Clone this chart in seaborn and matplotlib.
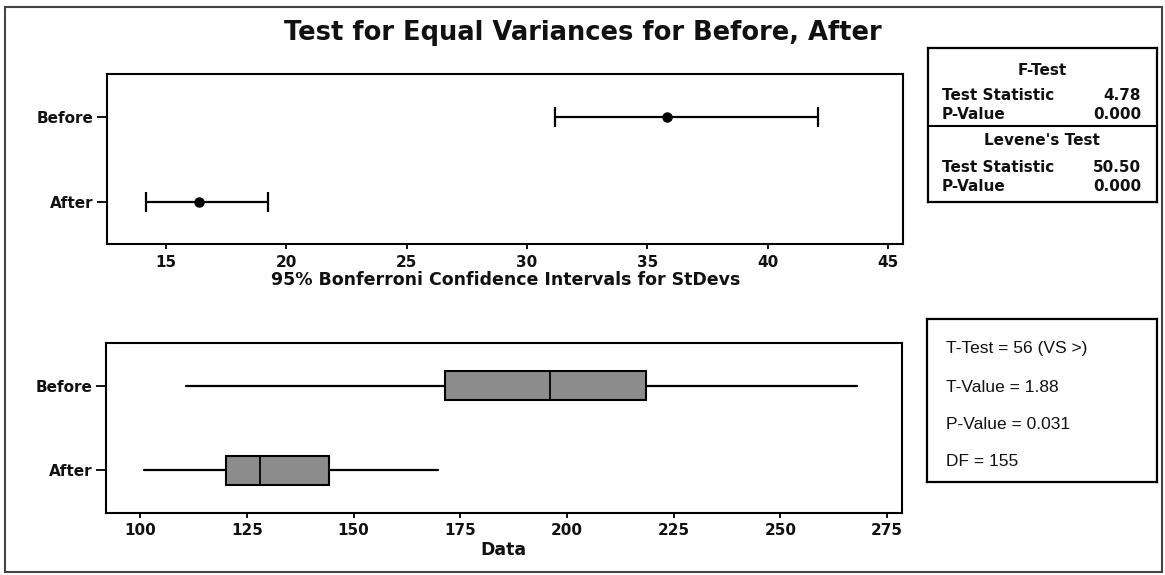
import matplotlib
matplotlib.use("Agg")
import matplotlib.pyplot as plt
import seaborn as sns
import pandas as pd
from matplotlib.patches import Rectangle
from matplotlib import font_manager

# ---------------- data ----------------
groups = ["Before", "After"]

sd_estimate = [35.8, 16.4]
sd_lower = [31.15, 14.17]
sd_upper = [42.06, 19.25]
sd_ticks = [15, 20, 25, 30, 35, 40, 45]

whisker_low = [110.8, 100.9]
q1 = [171.5, 120.2]
median = [196.1, 128.1]
q3 = [218.4, 144.2]
whisker_high = [267.9, 169.8]
data_ticks = [100, 125, 150, 175, 200, 225, 250, 275]

title = "Test for Equal Variances for Before, After"
sd_xlabel = "95% Bonferroni Confidence Intervals for StDevs"
data_xlabel = "Data"

f_test_title = "F-Test"
f_test_rows = [("Test Statistic", "4.78"), ("P-Value", "0.000")]
levene_title = "Levene's Test"
levene_rows = [("Test Statistic", "50.50"), ("P-Value", "0.000")]
t_test_lines = ["T-Test = 56 (VS >)", "T-Value = 1.88", "P-Value = 0.031", "DF = 155"]

# ---------------- style ----------------
sns.set_theme(style="white")
plt.rcParams["font.family"] = ["DejaVu Sans"]
plt.rcParams["axes.edgecolor"] = "black"
plt.rcParams["axes.linewidth"] = 1.5
plt.rcParams["text.color"] = "black"
plt.rcParams["axes.labelcolor"] = "black"
plt.rcParams["xtick.color"] = "black"
plt.rcParams["ytick.color"] = "black"

INK = "#111111"


def has_font(name):
    try:
        font_manager.findfont(font_manager.FontProperties(family=name),
                              fallback_to_default=False)
        return True
    except Exception:
        return False


W, H = 1165, 575
fig = plt.figure(figsize=(W / 100, H / 100), dpi=100)
fig.patch.set_facecolor("white")


def rect(left, top, right, bottom):
    return [left / W, 1 - bottom / H, (right - left) / W, (bottom - top) / H]


# outer frame
fig.add_artist(Rectangle((5 / W, 1 - 572 / H), (1162 - 5) / W, (572 - 7) / H,
                         transform=fig.transFigure, fill=False, lw=1.5,
                         ec="#444444"))

fig.text(583 / W, 1 - 33 / H, title, ha="center", va="center",
         fontsize=18.5, fontweight="bold", color=INK)

# ---------------- top panel: CI for StDevs ----------------
ax1 = fig.add_axes(rect(107.3, 74, 903.3, 244.3))
df_sd = pd.DataFrame({"group": groups, "sd": sd_estimate})
sns.pointplot(data=df_sd, x="sd", y="group", order=groups, orient="h",
              errorbar=None, linestyle="none", color="black",
              markersize=5.5, ax=ax1)
pos = list(range(len(groups)))
xerr = [[e - l for e, l in zip(sd_estimate, sd_lower)],
        [u - e for e, u in zip(sd_estimate, sd_upper)]]
ax1.errorbar(sd_estimate, pos, xerr=xerr, fmt="none", ecolor="black",
             elinewidth=1.6, capsize=7, capthick=1.6)
ax1.set_xlim(12.58, 45.62)
ax1.set_ylim(1.5, -0.5)
ax1.set_xticks(sd_ticks)
ax1.set_xticklabels([str(t) for t in sd_ticks])
ax1.set_yticks(pos)
ax1.set_yticklabels(groups)
ax1.set_xlabel(sd_xlabel, fontsize=12.5, fontweight="bold", color=INK)
ax1.set_ylabel("")
ax1.xaxis.set_label_coords(0.5, -(280 - 244.3) / 170.3)
ax1.xaxis.label.set_va("center")

# ---------------- bottom panel: boxplot ----------------
ax2 = fig.add_axes(rect(106, 343.3, 901.7, 512.7))
stats = []
for g, wl, a, m, b, wh in zip(groups, whisker_low, q1, median, q3, whisker_high):
    stats.append({"label": g, "whislo": wl, "q1": a, "med": m, "q3": b,
                  "whishi": wh, "fliers": []})
bxp_kw = dict(positions=pos, widths=0.34, patch_artist=True, showcaps=False,
              showfliers=False,
              boxprops=dict(facecolor="#8c8c8c", edgecolor="black", linewidth=1.5),
              medianprops=dict(color="black", linewidth=1.3),
              whiskerprops=dict(color="black", linewidth=1.6))
try:
    ax2.bxp(stats, orientation="horizontal", **bxp_kw)
except TypeError:
    ax2.bxp(stats, vert=False, **bxp_kw)
ax2.set_xlim(92.0, 278.4)
ax2.set_ylim(1.5, -0.5)
ax2.set_xticks(data_ticks)
ax2.set_xticklabels([str(t) for t in data_ticks])
ax2.set_yticks(pos)
ax2.set_yticklabels(groups)
ax2.set_xlabel(data_xlabel, fontsize=12.5, fontweight="bold", color=INK)
ax2.xaxis.set_label_coords(0.5, -(550 - 512.7) / 169.4)
ax2.xaxis.label.set_va("center")

for ax in (ax1, ax2):
    for s in ax.spines.values():
        s.set_visible(True)
        s.set_color("black")
        s.set_linewidth(1.5)
    ax.tick_params(axis="x", direction="out", length=3.5, width=1.3,
                   colors="black", labelsize=11, pad=4, bottom=True)
    ax.tick_params(axis="y", direction="out", length=7, width=1.3,
                   colors="black", labelsize=11, pad=3, left=True)
    for lab in ax.get_xticklabels() + ax.get_yticklabels():
        lab.set_fontweight("bold")
        lab.set_color(INK)
    ax.set_facecolor("white")

# ---------------- F-test / Levene box ----------------
axF = fig.add_axes(rect(928.3, 48.3, 1157.3, 201.7))
axF.set_xlim(928.3, 1157.3)
axF.set_ylim(201.7, 48.3)
axF.set_xticks([])
axF.set_yticks([])
axF.axhline(126, color="black", lw=1.5)
fs_box = 11
tkw = dict(va="center", fontsize=fs_box, fontweight="bold", color=INK)
axF.text(1042, 70.7, f_test_title, ha="center", **tkw)
for (lab, val), y in zip(f_test_rows, [95, 114.3]):
    axF.text(941.7, y, lab, ha="left", **tkw)
    axF.text(1141, y, val, ha="right", **tkw)
axF.text(1042, 140, levene_title, ha="center", **tkw)
for (lab, val), y in zip(levene_rows, [167.3, 186.7]):
    axF.text(941.7, y, lab, ha="left", **tkw)
    axF.text(1141, y, val, ha="right", **tkw)

# ---------------- T-test box ----------------
axT = fig.add_axes(rect(926.7, 319, 1157.3, 481.7))
axT.set_xlim(926.7, 1157.3)
axT.set_ylim(481.7, 319)
axT.set_xticks([])
axT.set_yticks([])
if has_font("Liberation Sans Narrow"):
    t_family, t_size = ["Liberation Sans Narrow"], 14.5
else:
    t_family, t_size = ["Liberation Sans"], 12.5
for line, y in zip(t_test_lines, [348.3, 387.7, 424.3, 461.7]):
    axT.text(946, y, line, ha="left", va="center", fontsize=t_size,
             family=t_family, color=INK)

for ax in (axF, axT):
    for s in ax.spines.values():
        s.set_visible(True)
        s.set_color("black")
        s.set_linewidth(1.6)
    ax.set_facecolor("white")

fig.savefig("out.png", dpi=100)
